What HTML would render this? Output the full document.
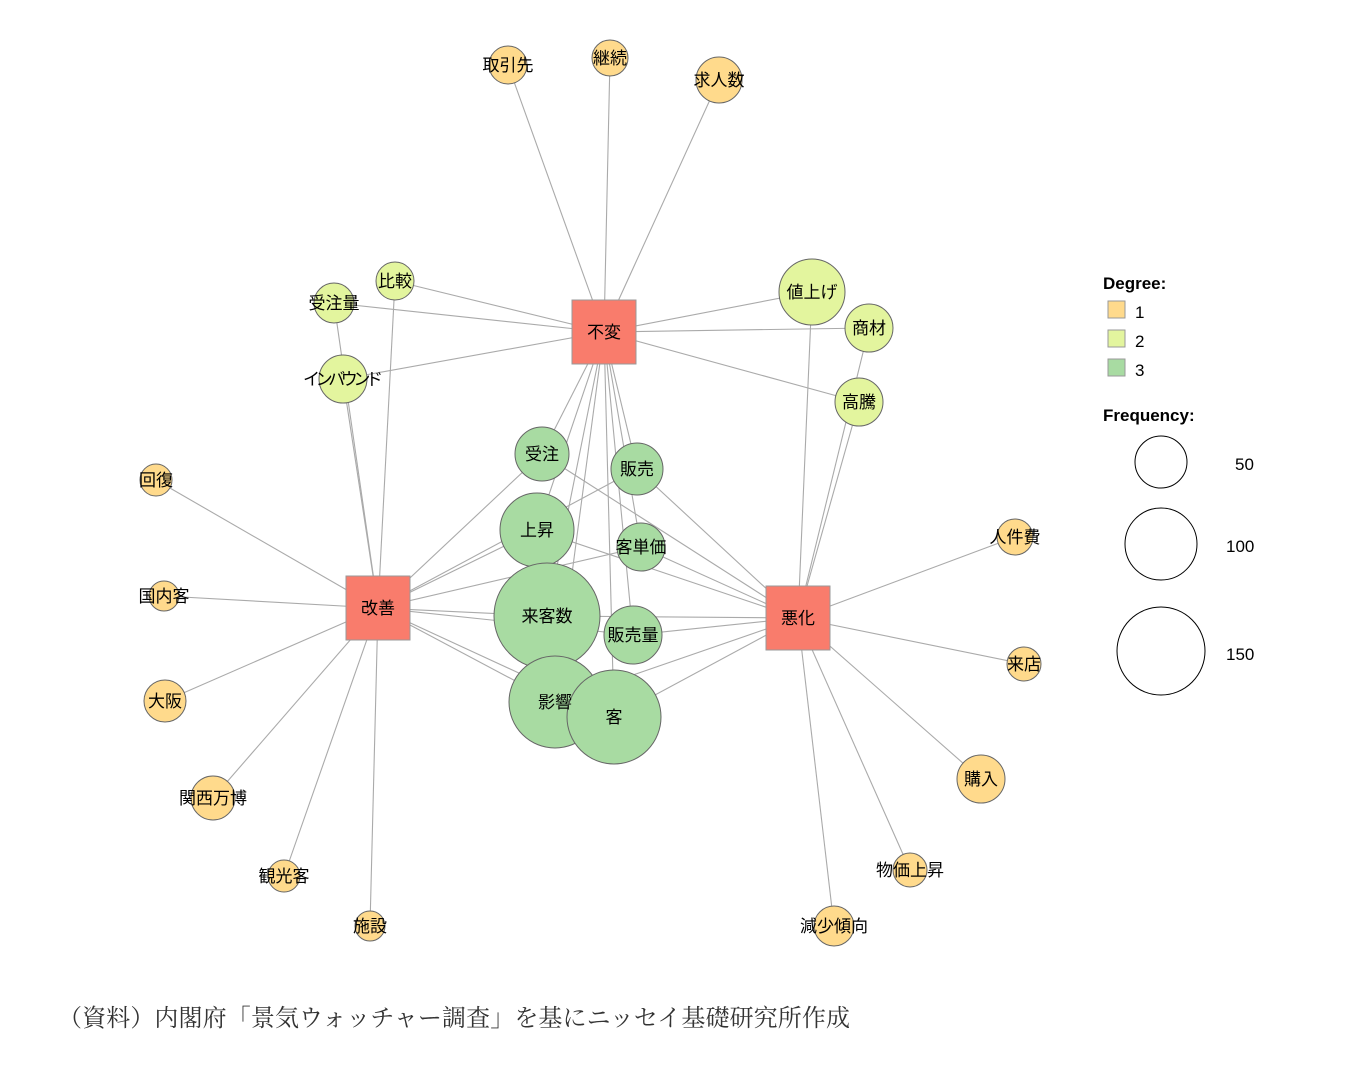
<!DOCTYPE html><html><head><meta charset="utf-8"><style>body{margin:0;background:#fff}svg{display:block}
text{font-family:"Liberation Sans","Noto Sans CJK JP",sans-serif;font-size:17px;fill:#000}</style></head><body>
<svg width="1350" height="1068" viewBox="0 0 1350 1068" xmlns="http://www.w3.org/2000/svg">
<g stroke="#aaa" stroke-width="1.1" id="e"></g>
<g id="n"></g>
<g id="leg">
<text x="1103" y="289" font-weight="bold" style="font-size:17px">Degree:</text>
<rect x="1108" y="301" width="17" height="17" fill="#FFDA8C" stroke="#999"/><text x="1135" y="318">1</text>
<rect x="1108" y="330" width="17" height="17" fill="#E3F59E" stroke="#999"/><text x="1135" y="347">2</text>
<rect x="1108" y="359" width="17" height="17" fill="#A8DBA2" stroke="#999"/><text x="1135" y="376">3</text>
<text x="1103" y="421" font-weight="bold" style="font-size:17px">Frequency:</text>
<circle cx="1161" cy="462" r="26" fill="none" stroke="#000"/><text x="1235" y="470">50</text>
<circle cx="1161" cy="544" r="36" fill="none" stroke="#000"/><text x="1226" y="552">100</text>
<circle cx="1161" cy="651" r="44" fill="none" stroke="#000"/><text x="1226" y="660">150</text>
</g>
<text x="58" y="1026" textLength="792" style="font-family:'Liberation Serif','Noto Serif CJK SC',serif;font-size:24px;fill:#333">（資料）内閣府「景気ウォッチャー調査」を基にニッセイ基礎研究所作成</text>
</svg>
<script>
const S={不変:[604,332],改善:[378,608],悪化:[798,618]};
const G=[["受注",542,454,27],["販売",637,469,26],["上昇",537,530,37],["客単価",641,547,24],["来客数",547,616,53],["販売量",633,635,29],["影響",555,702,46],["客",614,717,47]];
const Y=[["比較",395,281,19,"不変改善"],["受注量",334,303,20,"不変改善"],["インバウンド",343,379,24,"不変改善"],["値上げ",812,292,33,"不変悪化"],["商材",869,328,24,"不変悪化"],["高騰",859,402,24,"不変悪化"]];
const O=[["取引先",508,65,19,"不変"],["継続",610,58,18,"不変"],["求人数",719,80,23,"不変"],["回復",156,480,16,"改善"],["国内客",164,596,15,"改善"],["大阪",165,701,21,"改善"],["関西万博",213,798,22,"改善"],["観光客",284,876,16,"改善"],["施設",370,926,15,"改善"],["人件費",1015,537,18,"悪化"],["来店",1024,664,17,"悪化"],["購入",981,779,24,"悪化"],["物価上昇",910,870,17,"悪化"],["減少傾向",834,926,20,"悪化"]];
const ns="http://www.w3.org/2000/svg",E=document.getElementById("e"),N=document.getElementById("n");
function el(p,t,a,txt){const e=document.createElementNS(ns,t);for(const k in a)e.setAttribute(k,a[k]);if(txt)e.textContent=txt;p.appendChild(e);return e}
function ln(a,x,y){const s=S[a];el(E,"line",{x1:s[0],y1:s[1],x2:x,y2:y})}
G.forEach(g=>{for(const k in S)ln(k,g[1],g[2])});
Y.forEach(g=>{for(const k in S)if(g[4].includes(k))ln(k,g[1],g[2])});
O.forEach(g=>ln(g[4],g[1],g[2]));
function circ(arr,fill){arr.forEach(g=>{el(N,"circle",{cx:g[1],cy:g[2],r:g[3],fill:fill,stroke:"#666","stroke-width":1})})}
function lab(arr){arr.forEach(g=>{const a={x:g[1],y:g[2]+6,"text-anchor":"middle"};if(g[0]=="インバウンド")a.textLength=80;el(N,"text",a,g[0])})}
circ(O,"#FFDA8C");circ(Y,"#E3F59E");circ(G,"#A8DBA2");
for(const k in S){const s=S[k];el(N,"rect",{x:s[0]-32,y:s[1]-32,width:64,height:64,fill:"#F97C6C",stroke:"#999"})}
lab(O);lab(Y);lab(G);
for(const k in S){const s=S[k];el(N,"text",{x:s[0],y:s[1]+6,"text-anchor":"middle"},k)}
</script></body></html>
